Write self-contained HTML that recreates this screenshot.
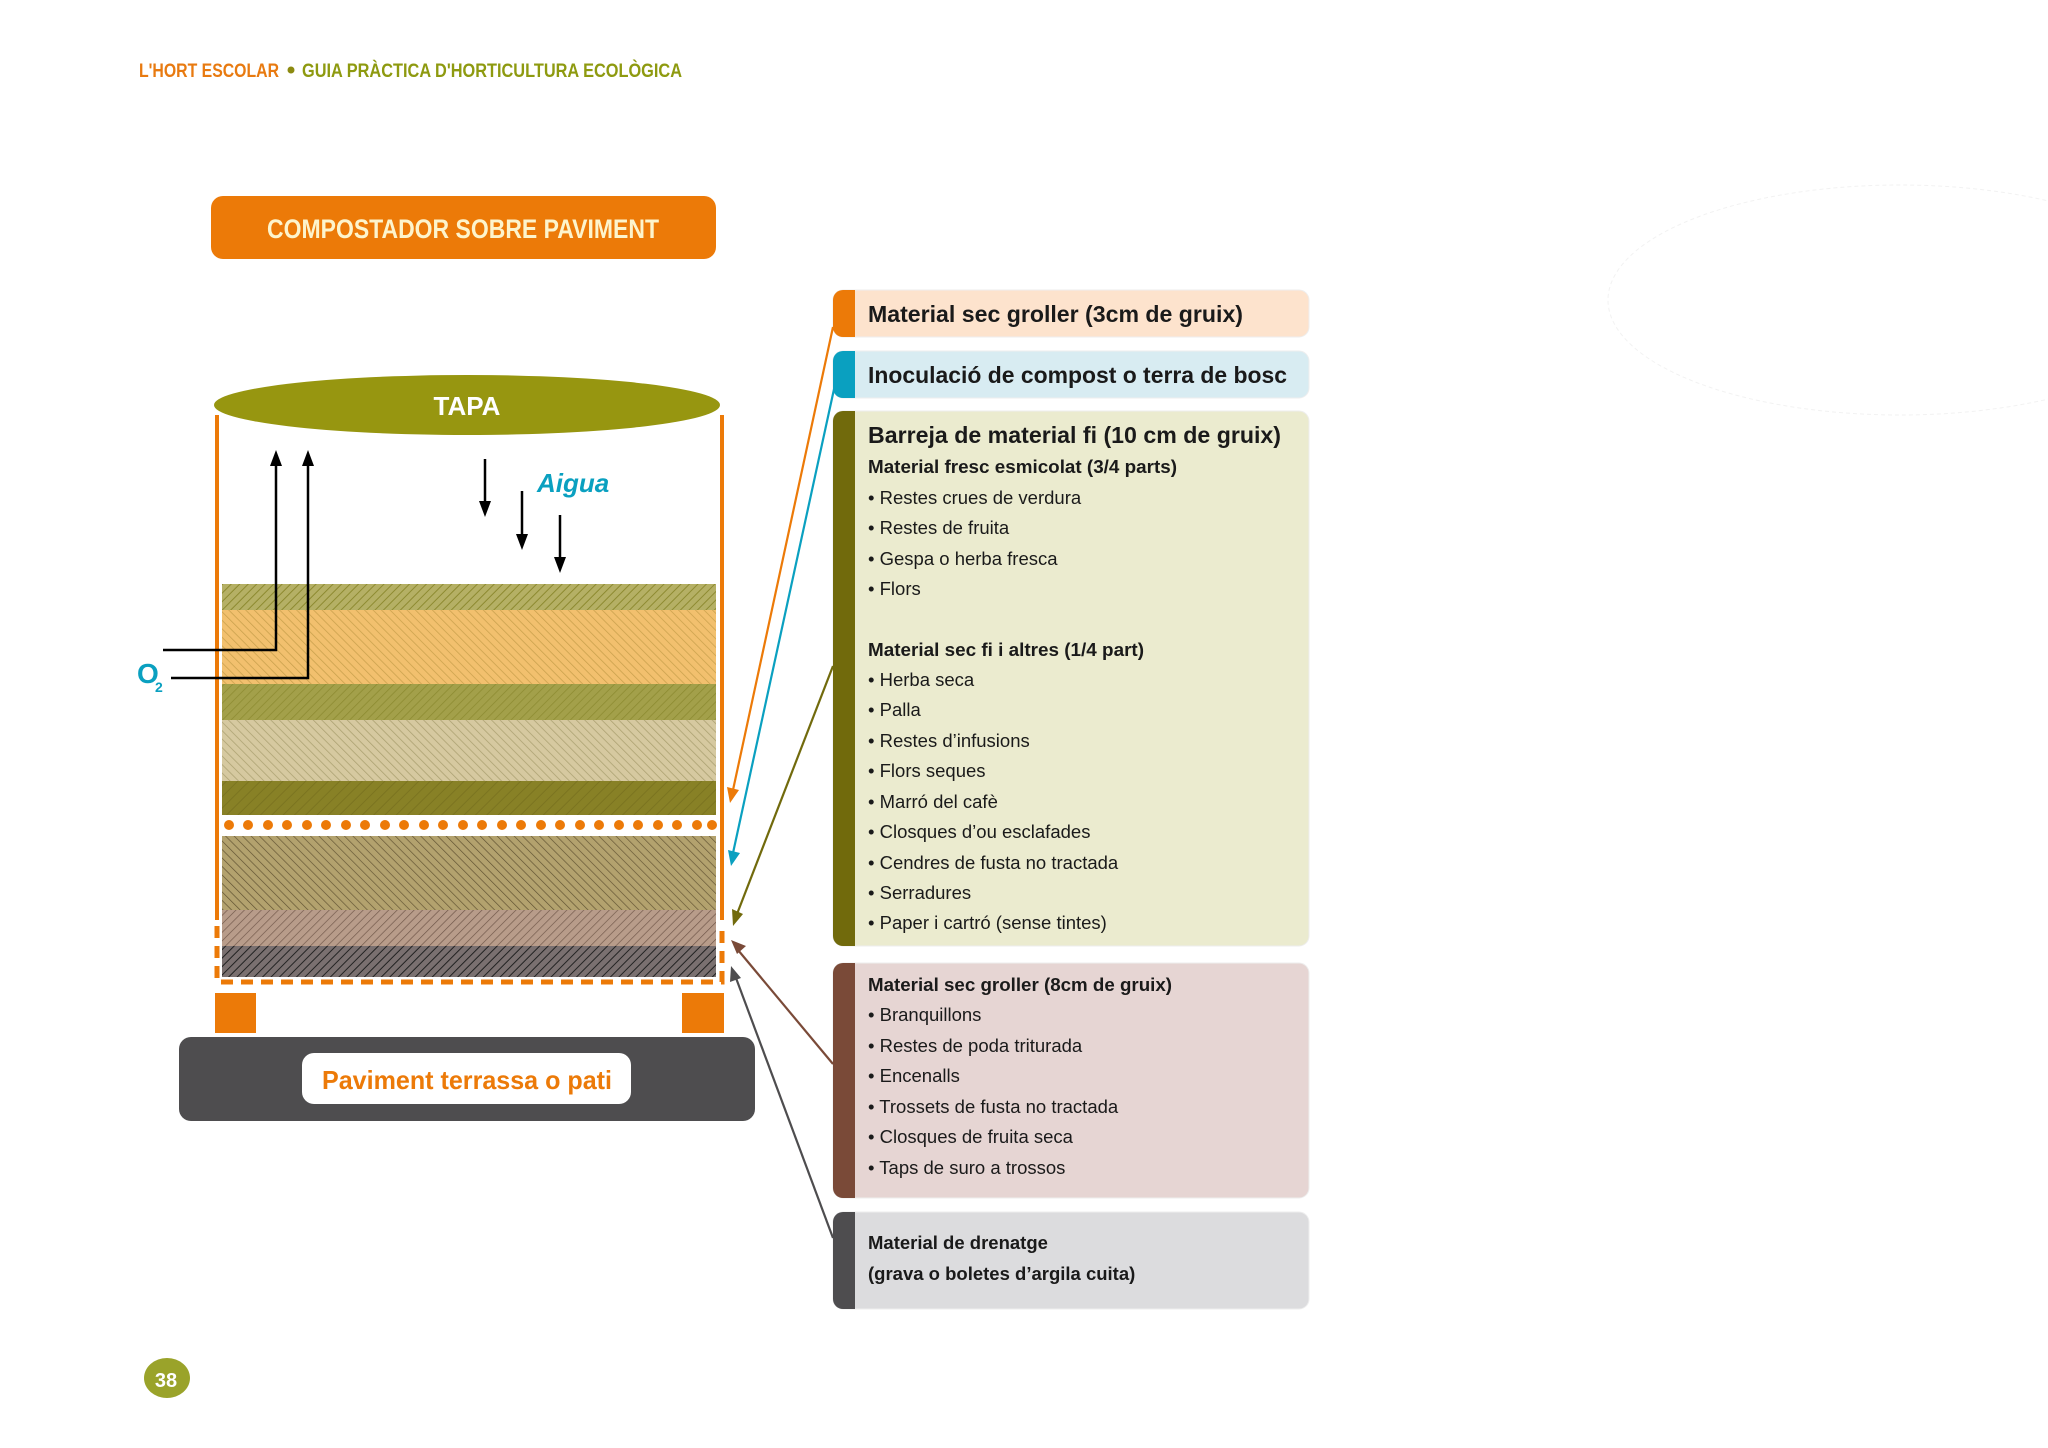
<!DOCTYPE html>
<html><head><meta charset="utf-8"><style>
html,body{margin:0;padding:0;background:#fff}
svg{display:block}
.cd{font-family:"Liberation Sans Narrow","Liberation Sans",sans-serif;font-weight:bold}
.t{font-family:"Liberation Sans","DejaVu Sans",sans-serif;fill:#1a1a1a}
</style></head><body>
<svg width="2048" height="1448" viewBox="0 0 2048 1448" xmlns="http://www.w3.org/2000/svg">
<defs>
<pattern id="h1" width="6" height="6" patternUnits="userSpaceOnUse" patternTransform="rotate(45)"><rect width="6" height="6" fill="#b5b065"/><line x1="0" y1="0" x2="0" y2="6" stroke="#8d8a30" stroke-width="2"/></pattern>
<pattern id="h2" width="6" height="6" patternUnits="userSpaceOnUse" patternTransform="rotate(-45)"><rect width="6" height="6" fill="#f2c06e"/><line x1="0" y1="0" x2="0" y2="6" stroke="#c9a04c" stroke-width="1.5"/></pattern>
<pattern id="h3" width="6" height="6" patternUnits="userSpaceOnUse" patternTransform="rotate(45)"><rect width="6" height="6" fill="#a3a04a"/><line x1="0" y1="0" x2="0" y2="6" stroke="#8c8a30" stroke-width="1.5"/></pattern>
<pattern id="h4" width="6" height="6" patternUnits="userSpaceOnUse" patternTransform="rotate(-45)"><rect width="6" height="6" fill="#d6c9a0"/><line x1="0" y1="0" x2="0" y2="6" stroke="#aaa070" stroke-width="1.5"/></pattern>
<pattern id="h5" width="8" height="8" patternUnits="userSpaceOnUse" patternTransform="rotate(45)"><rect width="8" height="8" fill="#888126"/><line x1="0" y1="0" x2="0" y2="8" stroke="#7b7420" stroke-width="2"/></pattern>
<pattern id="h6" width="6" height="6" patternUnits="userSpaceOnUse" patternTransform="rotate(-45)"><rect width="6" height="6" fill="#b3a26e"/><line x1="0" y1="0" x2="0" y2="6" stroke="#5e5030" stroke-width="1.3"/></pattern>
<pattern id="h7" width="6" height="6" patternUnits="userSpaceOnUse" patternTransform="rotate(45)"><rect width="6" height="6" fill="#b89c8a"/><line x1="0" y1="0" x2="0" y2="6" stroke="#6e5548" stroke-width="1.3"/></pattern>
<pattern id="h8" width="6" height="6" patternUnits="userSpaceOnUse" patternTransform="rotate(45)"><rect width="6" height="6" fill="#7a7070"/><line x1="0" y1="0" x2="0" y2="6" stroke="#222" stroke-width="2"/></pattern>
</defs>

<!-- header -->
<text x="139" y="77" class="cd" font-size="19" fill="#e87a10" textLength="140" lengthAdjust="spacingAndGlyphs">L'HORT ESCOLAR</text>
<circle cx="291" cy="70" r="3.5" fill="#8c8a10"/>
<text x="302" y="77" class="cd" font-size="19" fill="#8e9a10" textLength="380" lengthAdjust="spacingAndGlyphs">GUIA PRÀCTICA D'HORTICULTURA ECOLÒGICA</text>

<!-- faint ellipse -->
<ellipse cx="1900" cy="300" rx="292" ry="115" fill="none" stroke="#f2f2f2" stroke-width="1" stroke-dasharray="4 3"/>

<!-- title -->
<rect x="211" y="196" width="505" height="63" rx="12" fill="#ec7a08"/>
<text x="463" y="238" class="cd" font-size="27" fill="#fdf4cc" text-anchor="middle" textLength="392" lengthAdjust="spacingAndGlyphs">COMPOSTADOR SOBRE PAVIMENT</text>

<!-- side walls -->
<line x1="217" y1="415" x2="217" y2="920" stroke="#ec7a08" stroke-width="4"/>
<line x1="722" y1="415" x2="722" y2="920" stroke="#ec7a08" stroke-width="4"/>
<path d="M217,926 V982 H722 V926" fill="none" stroke="#ec7a08" stroke-width="5" stroke-dasharray="12 8"/>

<!-- layers -->
<rect x="222" y="584" width="494" height="26" fill="url(#h1)"/>
<rect x="222" y="610" width="494" height="74" fill="url(#h2)"/>
<rect x="222" y="684" width="494" height="36" fill="url(#h3)"/>
<rect x="222" y="720" width="494" height="61" fill="url(#h4)"/>
<rect x="222" y="781" width="494" height="34" fill="url(#h5)"/>
<g fill="#ec7a08">
<circle cx="229" cy="825" r="5"/><circle cx="248" cy="825" r="5"/><circle cx="268" cy="825" r="5"/><circle cx="287" cy="825" r="5"/><circle cx="307" cy="825" r="5"/><circle cx="326" cy="825" r="5"/><circle cx="346" cy="825" r="5"/><circle cx="365" cy="825" r="5"/><circle cx="385" cy="825" r="5"/><circle cx="404" cy="825" r="5"/><circle cx="424" cy="825" r="5"/><circle cx="443" cy="825" r="5"/><circle cx="463" cy="825" r="5"/><circle cx="482" cy="825" r="5"/><circle cx="502" cy="825" r="5"/><circle cx="521" cy="825" r="5"/><circle cx="541" cy="825" r="5"/><circle cx="560" cy="825" r="5"/><circle cx="580" cy="825" r="5"/><circle cx="599" cy="825" r="5"/><circle cx="619" cy="825" r="5"/><circle cx="638" cy="825" r="5"/><circle cx="658" cy="825" r="5"/><circle cx="677" cy="825" r="5"/><circle cx="697" cy="825" r="5"/><circle cx="712" cy="825" r="5"/>
</g>
<rect x="222" y="836" width="494" height="74" fill="url(#h6)"/>
<rect x="222" y="910" width="494" height="36" fill="url(#h7)"/>
<rect x="222" y="946" width="494" height="31" fill="url(#h8)"/>

<!-- lid -->
<ellipse cx="467" cy="405" rx="253" ry="30" fill="#979610"/>
<text x="467" y="415" class="cd" font-size="26" fill="#fff" text-anchor="middle">TAPA</text>

<!-- feet and pavement -->
<rect x="215" y="993" width="41" height="40" fill="#ec7a08"/>
<rect x="682" y="993" width="42" height="40" fill="#ec7a08"/>
<rect x="179" y="1037" width="576" height="84" rx="12" fill="#4e4d4f"/>
<rect x="302" y="1053" width="329" height="51" rx="12" fill="#fff"/>
<text x="467" y="1089" class="cd" font-size="26" fill="#ec7a08" text-anchor="middle" textLength="290" lengthAdjust="spacingAndGlyphs">Paviment terrassa o pati</text>

<!-- O2 arrows -->
<path d="M163,650 H276 V462" fill="none" stroke="#000" stroke-width="2.5"/>
<path d="M171,678 H308 V462" fill="none" stroke="#000" stroke-width="2.5"/>
<path d="M276,450 L270,466 L282,466z" fill="#000"/>
<path d="M308,450 L302,466 L314,466z" fill="#000"/>
<text x="137" y="683" class="cd" font-size="28" fill="#0aa0c0">O</text>
<text x="155" y="692" class="cd" font-size="14" fill="#0aa0c0">2</text>

<!-- water arrows -->
<line x1="485" y1="459" x2="485" y2="505" stroke="#000" stroke-width="2.5"/>
<line x1="522" y1="491" x2="522" y2="538" stroke="#000" stroke-width="2.5"/>
<line x1="560" y1="515" x2="560" y2="561" stroke="#000" stroke-width="2.5"/>
<path d="M485,517 L479,501 L491,501z" fill="#000"/>
<path d="M522,550 L516,534 L528,534z" fill="#000"/>
<path d="M560,573 L554,557 L566,557z" fill="#000"/>
<text x="537" y="492" class="cd" font-size="26" fill="#0aa0c0" font-style="italic">Aigua</text>

<!-- panels -->
<rect x="833" y="290" width="476" height="47" rx="10" fill="#fde3cd" stroke="#eee" stroke-width="1"/>
<path d="M843,290 H855 V337 H843 A10,10 0 0 1 833,327 V300 A10,10 0 0 1 843,290z" fill="#ec7a08"/>
<text x="868" y="322" class="t" font-size="23" font-weight="bold" textLength="375" lengthAdjust="spacingAndGlyphs">Material sec groller (3cm de gruix)</text>

<rect x="833" y="351" width="476" height="47" rx="10" fill="#d8ecf2" stroke="#eee" stroke-width="1"/>
<path d="M843,351 H855 V398 H843 A10,10 0 0 1 833,388 V361 A10,10 0 0 1 843,351z" fill="#0aa0c0"/>
<text x="868" y="383" class="t" font-size="23" font-weight="bold" textLength="419" lengthAdjust="spacingAndGlyphs">Inoculació de compost o terra de bosc</text>

<rect x="833" y="411" width="476" height="535" rx="10" fill="#ebebcf" stroke="#eee" stroke-width="1"/>
<path d="M843,411 H855 V946 H843 A10,10 0 0 1 833,936 V421 A10,10 0 0 1 843,411z" fill="#716a0c"/>
<text x="868" y="443" class="t" font-size="23" font-weight="bold" textLength="413" lengthAdjust="spacingAndGlyphs">Barreja de material fi (10 cm de gruix)</text>
<g class="t" font-size="18.5">
<text x="868" y="473" font-weight="bold" textLength="309" lengthAdjust="spacingAndGlyphs">Material fresc esmicolat (3/4 parts)</text>
<text x="868" y="504">• Restes crues de verdura</text>
<text x="868" y="534">• Restes de fruita</text>
<text x="868" y="565">• Gespa o herba fresca</text>
<text x="868" y="595">• Flors</text>
<text x="868" y="656" font-weight="bold" textLength="276" lengthAdjust="spacingAndGlyphs">Material sec fi i altres (1/4 part)</text>
<text x="868" y="686">• Herba seca</text>
<text x="868" y="716">• Palla</text>
<text x="868" y="747">• Restes d’infusions</text>
<text x="868" y="777">• Flors seques</text>
<text x="868" y="808">• Marró del cafè</text>
<text x="868" y="838">• Closques d’ou esclafades</text>
<text x="868" y="869">• Cendres de fusta no tractada</text>
<text x="868" y="899">• Serradures</text>
<text x="868" y="929">• Paper i cartró (sense tintes)</text>
</g>

<rect x="833" y="963" width="476" height="235" rx="10" fill="#e6d5d3" stroke="#eee" stroke-width="1"/>
<path d="M843,963 H855 V1198 H843 A10,10 0 0 1 833,1188 V973 A10,10 0 0 1 843,963z" fill="#7a4a38"/>
<g class="t" font-size="18.5">
<text x="868" y="991" font-weight="bold" textLength="304" lengthAdjust="spacingAndGlyphs">Material sec groller (8cm de gruix)</text>
<text x="868" y="1021">• Branquillons</text>
<text x="868" y="1052">• Restes de poda triturada</text>
<text x="868" y="1082">• Encenalls</text>
<text x="868" y="1113">• Trossets de fusta no tractada</text>
<text x="868" y="1143">• Closques de fruita seca</text>
<text x="868" y="1174">• Taps de suro a trossos</text>
</g>

<rect x="833" y="1212" width="476" height="97" rx="10" fill="#dcdcde" stroke="#eee" stroke-width="1"/>
<path d="M843,1212 H855 V1309 H843 A10,10 0 0 1 833,1299 V1222 A10,10 0 0 1 843,1212z" fill="#4e4d4f"/>
<g class="t" font-size="18.5" font-weight="bold">
<text x="868" y="1249">Material de drenatge</text>
<text x="868" y="1280">(grava o boletes d’argila cuita)</text>
</g>

<!-- connectors -->
<g stroke-width="2.2" fill="none">
<line x1="833" y1="327" x2="733" y2="790" stroke="#ec7a08"/>
<line x1="836" y1="380" x2="733" y2="853" stroke="#0aa0c0"/>
<line x1="833" y1="666" x2="737" y2="914" stroke="#716a0c"/>
<line x1="833" y1="1064" x2="738" y2="950" stroke="#7a4a38"/>
<line x1="833" y1="1238" x2="736" y2="978" stroke="#4e4d4f"/>
</g>
<path d="M730,803 L727,787 L739,790z" fill="#ec7a08"/>
<path d="M731,866 L728,850 L740,853z" fill="#0aa0c0"/>
<path d="M733,926 L732,909 L743,914z" fill="#716a0c"/>
<path d="M731,940 L746,946 L737,954z" fill="#7a4a38"/>
<path d="M731,966 L741,978 L730,982z" fill="#4e4d4f"/>

<!-- page number -->
<ellipse cx="167" cy="1378" rx="23" ry="20" fill="#9aa32a"/>
<text x="166" y="1387" class="cd" font-size="20" fill="#fff" text-anchor="middle">38</text>
</svg>
</body></html>
